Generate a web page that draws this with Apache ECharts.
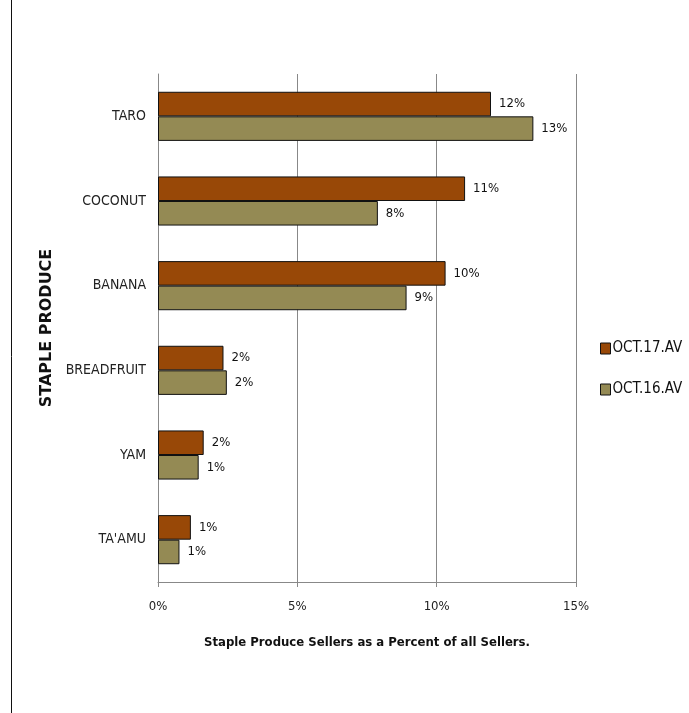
<!DOCTYPE html>
<html><head><meta charset="utf-8">
<script src="https://cdn.jsdelivr.net/npm/echarts@6/dist/echarts.min.js"></script>
<style>html,body{margin:0;padding:0;background:#fff}#c{width:689px;height:713px}</style>
</head><body><div id="c"></div>
<script>
// categories listed bottom-to-top
const categories = ["TA'AMU", 'YAM', 'BREADFRUIT', 'BANANA', 'COCONUT', 'TARO'];
const oct17 = [1.18, 1.64, 2.35, 10.32, 11.02, 11.95];
const oct16 = [0.77, 1.46, 2.47, 8.92, 7.89, 13.47];
const xTicks = [0, 5, 10, 15];
const seriesNames = ['OCT.17.AV', 'OCT.16.AV'];

const FONT = '"Liberation Sans Narrow", "DejaVu Sans Condensed", Arial, sans-serif';
const chart = echarts.init(document.getElementById('c'));
const lbl = {
  show: true, position: 'right', distance: 8, color: '#111', fontSize: 13, fontFamily: FONT,
  formatter: p => Math.round(p.value) + '%'
};
chart.setOption({
  animation: false,
  backgroundColor: '#fff',
  textStyle: { fontFamily: FONT },
  grid: { left: 158, right: 113, top: 74, bottom: 131 },
  legend: {
    orient: 'vertical', left: 595, top: 336, itemWidth: 10, itemHeight: 11, itemGap: 26,
    icon: 'rect',
    data: seriesNames,
    textStyle: { fontSize: 15, color: '#111', fontFamily: FONT, padding: [0, 0, 0, -3] },
    itemStyle: { borderColor: '#111', borderWidth: 1 }
  },
  xAxis: {
    type: 'value', min: xTicks[0], max: xTicks[xTicks.length - 1], interval: 5,
    axisLabel: { formatter: v => v + '%', fontSize: 13, color: '#222', margin: 18, fontFamily: FONT },
    axisLine: { show: true, lineStyle: { color: '#888' } },
    axisTick: { show: true, length: 5, lineStyle: { color: '#888' } },
    splitLine: { show: true, lineStyle: { color: '#888' } },
    name: 'Staple Produce Sellers as a Percent of all Sellers.',
    nameLocation: 'middle', nameGap: 54,
    nameTextStyle: { fontSize: 13, fontWeight: 'bold', color: '#111', fontFamily: FONT }
  },
  yAxis: {
    type: 'category', data: categories,
    axisLabel: { fontSize: 14, color: '#222', margin: 12, fontFamily: FONT },
    axisLine: { show: true, lineStyle: { color: '#888' } },
    axisTick: { show: false },
    name: 'STAPLE PRODUCE', nameLocation: 'middle', nameRotate: 90, nameGap: 103,
    nameTextStyle: { fontSize: 16, fontWeight: 'bold', color: '#111', fontFamily: '"DejaVu Sans", sans-serif' }
  },
  graphic: [{
    type: 'line', shape: { x1: 11.5, y1: 0, x2: 11.5, y2: 713 },
    style: { stroke: '#111', lineWidth: 1 }
  }],
  series: [
    { name: seriesNames[0], type: 'bar', data: oct17, barGap: '0%', barCategoryGap: '42%',
      itemStyle: { color: '#984807', borderColor: '#111', borderWidth: 1 }, label: lbl },
    { name: seriesNames[1], type: 'bar', data: oct16, barGap: '0%', barCategoryGap: '42%',
      itemStyle: { color: '#948A54', borderColor: '#111', borderWidth: 1 }, label: lbl }
  ]
});
</script></body></html>
